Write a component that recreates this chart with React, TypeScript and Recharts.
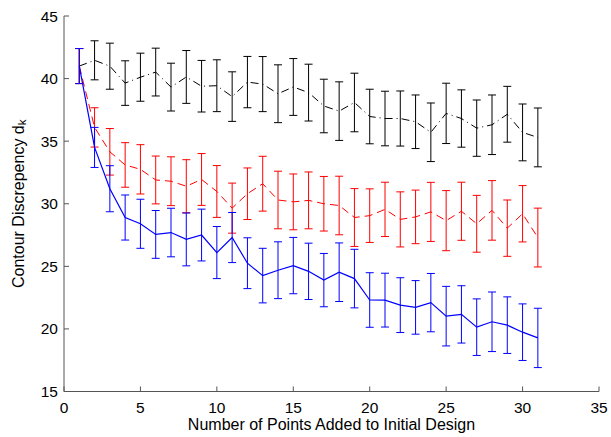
import React from 'react';
import { LineChart, Line, XAxis, YAxis, ErrorBar, Label } from 'recharts';

const xValues = [1, 2, 3, 4, 5, 6, 7, 8, 9, 10, 11, 12, 13, 14, 15, 16, 17, 18, 19, 20, 21, 22, 23, 24, 25, 26, 27, 28, 29, 30, 31];

const blackMean = [41.0, 41.46, 40.99, 39.64, 40.11, 40.52, 39.32, 40.13, 39.39, 39.43, 38.56, 39.72, 39.56, 38.79, 39.33, 38.88, 37.81, 37.4, 38.09, 36.97, 36.81, 36.81, 36.55, 35.71, 37.22, 36.81, 36.04, 36.31, 37.15, 35.7, 35.3];
const blackErr = [1.4, 1.56, 1.84, 1.78, 1.92, 1.91, 1.91, 2.11, 2.06, 2.07, 1.98, 2.05, 2.2, 2.31, 2.27, 2.27, 2.14, 2.34, 2.34, 2.18, 2.18, 2.2, 2.14, 2.34, 2.41, 2.29, 2.25, 2.38, 2.23, 2.27, 2.35];

const redMean = [41.0, 36.1, 34.15, 33.1, 32.75, 31.9, 31.8, 31.4, 31.94, 30.98, 29.65, 30.8, 31.6, 30.3, 30.15, 30.27, 30.0, 29.86, 28.9, 29.05, 29.55, 28.75, 28.95, 29.35, 28.65, 29.4, 28.4, 29.47, 28.05, 29.2, 27.3];
const redErr = [1.4, 1.57, 1.86, 1.78, 1.97, 1.91, 1.95, 2.12, 2.07, 2.07, 2.0, 2.06, 2.19, 2.3, 2.23, 2.27, 2.18, 2.34, 2.31, 2.14, 2.17, 2.2, 2.14, 2.36, 2.4, 2.32, 2.27, 2.38, 2.25, 2.25, 2.35];

const blueMean = [41.0, 34.5, 31.2, 28.9, 28.4, 27.55, 27.7, 27.15, 27.5, 26.1, 27.3, 25.25, 24.26, 24.69, 25.06, 24.6, 23.9, 24.53, 24.02, 22.31, 22.3, 21.9, 21.72, 22.1, 21.02, 21.16, 20.14, 20.57, 20.3, 19.74, 19.28];
const blueErr = [1.4, 1.6, 1.84, 1.8, 1.96, 1.91, 1.94, 2.11, 2.07, 2.08, 2.0, 2.03, 2.18, 2.27, 2.25, 2.25, 2.13, 2.34, 2.34, 2.18, 2.15, 2.19, 2.14, 2.33, 2.38, 2.29, 2.26, 2.38, 2.26, 2.26, 2.37];

const xTicks = [0, 5, 10, 15, 20, 25, 30, 35];
const yTicks = [15, 20, 25, 30, 35, 40, 45];

const data = xValues.map((x, i) => ({
  x,
  black: blackMean[i],
  blackErr: blackErr[i],
  red: redMean[i],
  redErr: redErr[i],
  blue: blueMean[i],
  blueErr: blueErr[i],
}));

const FONT = 'Liberation Sans, Arial, Helvetica, sans-serif';

const YLabel = (props: any) => {
  const vb = props.viewBox || {};
  const cy = vb.y + vb.height / 2;
  const cx = 18;
  return (
    <text
      x={cx}
      y={cy}
      transform={`rotate(-90, ${cx}, ${cy})`}
      textAnchor="middle"
      dominantBaseline="central"
      fontFamily={FONT}
      fontSize={16}
      fill="#000"
    >
      Contour Discrepency d
      <tspan fontSize={11.5} dy={4}>k</tspan>
    </text>
  );
};

export default function App() {
  return (
    <div style={{ position: 'absolute', left: 0, top: 0, background: '#fff' }}>
      <LineChart
        width={611}
        height={437}
        data={data}
        margin={{ top: 16, right: 12, bottom: 15.5, left: 0 }}
      >
        <XAxis
          type="number"
          dataKey="x"
          domain={[0, 35]}
          ticks={xTicks}
          interval={0}
          height={30}
          tickSize={-5}
          tickMargin={15}
          axisLine={{ stroke: '#555', strokeWidth: 1 }}
          tickLine={{ stroke: '#555', strokeWidth: 1 }}
          tick={{ fill: '#000', fontSize: 15.5, fontFamily: FONT }}
        >
          <Label
            value="Number of Points Added to Initial Design"
            position="insideBottom"
            offset={-8}
            style={{ fill: '#000', fontSize: 16, fontFamily: FONT }}
          />
        </XAxis>
        <YAxis
          type="number"
          domain={[15, 45]}
          ticks={yTicks}
          interval={0}
          width={64}
          tickSize={-5}
          tickMargin={11}
          axisLine={{ stroke: '#555', strokeWidth: 1 }}
          tickLine={{ stroke: '#555', strokeWidth: 1 }}
          tick={{ fill: '#000', fontSize: 15.5, fontFamily: FONT }}
        >
          <Label content={<YLabel />} />
        </YAxis>
        <Line
          type="linear"
          dataKey="black"
          stroke="#000"
          strokeWidth={1}
          strokeDasharray="8 4 1 4"
          dot={false}
          isAnimationActive={false}
        >
          <ErrorBar dataKey="blackErr" direction="y" width={4} stroke="#000" strokeWidth={1} />
        </Line>
        <Line
          type="linear"
          dataKey="red"
          stroke="#ff0000"
          strokeWidth={1}
          strokeDasharray="8 5"
          dot={false}
          isAnimationActive={false}
        >
          <ErrorBar dataKey="redErr" direction="y" width={4} stroke="#ff0000" strokeWidth={1} />
        </Line>
        <Line
          type="linear"
          dataKey="blue"
          stroke="#0000ff"
          strokeWidth={1.2}
          dot={false}
          isAnimationActive={false}
        >
          <ErrorBar dataKey="blueErr" direction="y" width={4} stroke="#0000ff" strokeWidth={1} />
        </Line>
      </LineChart>
    </div>
  );
}
